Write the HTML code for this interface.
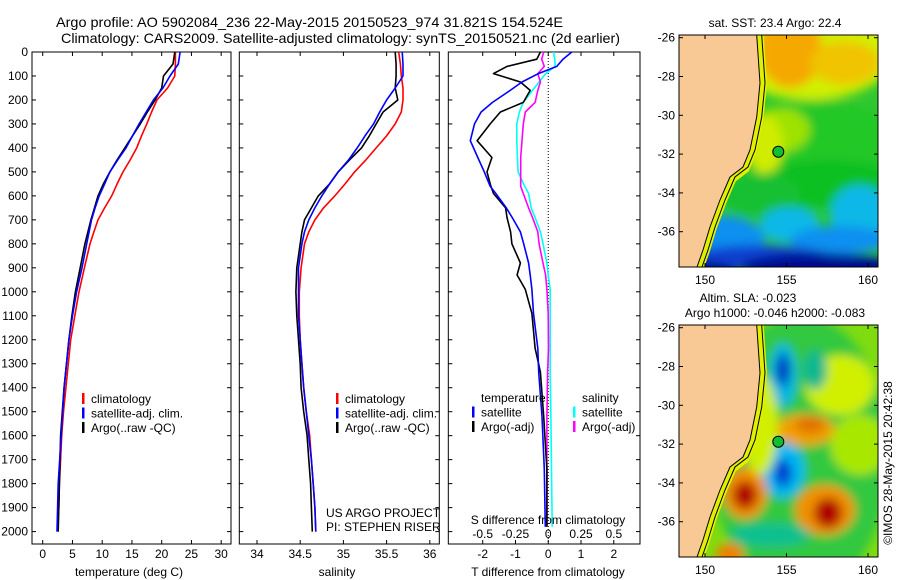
<!DOCTYPE html>
<html><head><meta charset="utf-8">
<style>
html,body{margin:0;padding:0;background:#fff;}
svg{display:block;font-family:"Liberation Sans",Arial,sans-serif;}
</style></head>
<body>
<svg id="fig" width="900" height="580" viewBox="0 0 900 580">
<defs>
  <filter id="blur1" x="-20%" y="-20%" width="140%" height="140%"><feGaussianBlur stdDeviation="5"/></filter>
  <clipPath id="clipMap1"><rect x="679" y="35" width="199" height="232"/></clipPath>
  <clipPath id="clipMap2"><rect x="679" y="325" width="199" height="232"/></clipPath>
</defs>
<text x="56" y="27" font-size="14" textLength="507" lengthAdjust="spacingAndGlyphs">Argo profile: AO 5902084_236 22-May-2015 20150523_974 31.821S 154.524E</text>
<text x="61" y="43" font-size="14" textLength="559" lengthAdjust="spacingAndGlyphs">Climatology: CARS2009. Satellite-adjusted climatology: synTS_20150521.nc (2d earlier)</text>
<g id="charts"></g>
<g id="maps"></g>
</svg>
<script>
// ---------- data ----------
const depths = [0,50,100,150,200,250,300,350,400,450,500,550,600,650,700,750,800,900,1000,1100,1200,1300,1400,1500,1600,1700,1800,1900,2000];
const tempClim = [22.3,22.3,22.2,21.0,19.2,18.3,17.5,16.6,15.8,14.7,13.5,12.5,11.6,10.4,9.3,8.6,7.95,7.0,6.1,5.4,4.7,4.3,3.9,3.5,3.2,3.0,2.8,2.7,2.5];
const tempSat  = [23.1,22.8,21.4,20.2,18.6,17.4,16.2,15.1,14.0,12.6,11.3,10.4,9.5,8.8,8.2,7.8,7.4,6.6,5.7,5.0,4.4,4.0,3.6,3.35,3.1,2.85,2.6,2.5,2.4];
const tempArgo = [22.2,21.9,20.3,20.0,18.9,17.6,16.4,15.1,13.8,12.5,11.3,10.2,9.3,8.7,8.1,7.6,7.1,6.3,5.5,4.9,4.4,4.0,3.6,3.3,3.0,2.9,2.8,2.7,2.6];
const salClim = [35.64,35.66,35.67,35.69,35.69,35.67,35.60,35.50,35.38,35.26,35.13,35.02,34.90,34.77,34.67,34.60,34.55,34.51,34.49,34.49,34.50,34.52,34.54,34.57,34.61,34.63,34.65,34.67,34.68];
const salSat  = [35.68,35.69,35.69,35.60,35.50,35.42,35.35,35.25,35.16,35.06,34.94,34.84,34.75,34.67,34.60,34.55,34.52,34.48,34.48,34.48,34.50,34.52,34.54,34.57,34.60,34.63,34.65,34.67,34.68];
const salArgo = [35.60,35.61,35.61,35.60,35.63,35.46,35.38,35.30,35.21,35.07,34.94,34.84,34.71,34.63,34.55,34.52,34.50,34.46,34.45,34.46,34.48,34.50,34.51,34.54,34.58,34.60,34.62,34.63,34.64];
const diffDepths = [0,30,60,90,125,160,210,250,300,370,440,500,560,590,650,690,750,800,880,930,990,1090,1235,1335,1520,1740,1980];
const dTSat  = [0.72,0.45,0.26,-0.30,-0.80,-1.16,-1.70,-2.05,-2.25,-2.38,-2.15,-1.95,-1.77,-1.60,-1.28,-1.10,-0.85,-0.75,-0.60,-0.55,-0.50,-0.45,-0.32,-0.29,-0.19,-0.12,-0.09];
const dTArgo = [-0.24,-0.35,-1.26,-1.67,-0.85,-0.55,-0.76,-1.46,-1.77,-2.17,-1.72,-1.87,-1.75,-1.67,-1.30,-1.26,-1.15,-1.11,-0.85,-0.95,-0.70,-0.50,-0.40,-0.24,-0.14,-0.04,-0.04];
const dSSat  = [0.04,0.05,0.053,-0.02,-0.07,-0.12,-0.19,-0.22,-0.24,-0.24,-0.235,-0.23,-0.18,-0.15,-0.13,-0.10,-0.06,-0.04,-0.01,0.0,0.015,0.015,0.015,0.015,0.02,0.025,0.03];
const dSArgo = [-0.035,-0.05,-0.03,-0.08,-0.06,-0.08,-0.10,-0.175,-0.19,-0.20,-0.21,-0.21,-0.21,-0.19,-0.15,-0.12,-0.08,-0.07,-0.04,-0.02,-0.01,0.0,0.002,-0.005,-0.01,-0.01,-0.01];
const yTicks = [0,100,200,300,400,500,600,700,800,900,1000,1100,1200,1300,1400,1500,1600,1700,1800,1900,2000];
const tTicks = [0,5,10,15,20,25,30];
const sTicks = [34,34.5,35,35.5,36];
const dTTicks = [-2,-1,0,1,2];
const dTTickLabels = ["-2","-1","0","1","2"];
const dSTicks = [-0.5,-0.25,0,0.25,0.5];
const dSTickLabels = ["-0.5","-0.25","0","0.25","0.5"];

const NS = "http://www.w3.org/2000/svg";
function mk(tag, attrs, parent, text){
  const e = document.createElementNS(NS, tag);
  for (const k in attrs) e.setAttribute(k, attrs[k]);
  if (text !== undefined) e.textContent = text;
  parent.appendChild(e);
  return e;
}
const charts = document.getElementById('charts');
const TOP = 52, BOT = 544;
const yScale = d => TOP + d * 0.2398;

function panel(name, x0, x1, xmin, xmax){
  const g = mk('g', {}, charts);
  
  
  const xs = v => x0 + (v - xmin) / (xmax - xmin) * (x1 - x0);
  const frame = mk('rect', {x:x0, y:TOP, width:x1-x0, height:BOT-TOP, fill:'none', stroke:'#000', 'stroke-width':1}, g);
  
  
  yTicks.forEach(d => {
    const y = yScale(d);
    mk('line', {x1:x0, x2:x0+4, y1:y, y2:y, stroke:'#000'}, g);
    mk('line', {x1:x1, x2:x1-4, y1:y, y2:y, stroke:'#000'}, g);
  });
  return {g, xs};
}
function yLabels(){
  const g = mk('g', {}, charts);
  
  
  yTicks.forEach(d => {
    const t = mk('text', {x:28, y:yScale(d)+4, 'font-size':12, 'text-anchor':'end'}, g, String(d));
    
    
  });
}
function xTicks(p, ticks, labels, yLab){
  ticks.forEach((v, i) => {
    const x = p.xs(v);
    mk('line', {x1:x, x2:x, y1:BOT, y2:BOT-4, stroke:'#000'}, p.g);
    mk('line', {x1:x, x2:x, y1:TOP, y2:TOP+4, stroke:'#000'}, p.g);
    const t = mk('text', {x:x, y:yLab, 'font-size':12, 'text-anchor':'middle'}, p.g, labels[i]);
    
    
  });
}
function series(p, vals, dep, color, name, w){
  const pts = vals.map((v, i) => p.xs(v).toFixed(1) + ',' + yScale(dep[i]).toFixed(1)).join(' ');
  const l = mk('polyline', {points:pts, fill:'none', stroke:color, 'stroke-width':w||1.6, 'stroke-linejoin':'round'}, p.g);
  
  
}
function legend(g, x, y, items){
  items.forEach((it, i) => {
    const yy = y + i * 14.5;
    if (it.c) mk('rect', {x:x, y:yy-10, width:2.5, height:11, fill:it.c}, g);
    const t = mk('text', {x:x+9, y:yy, 'font-size':12}, g, it.t);
    
    
  });
}
function label(g, x, y, s, name, anchor){
  const t = mk('text', {x:x, y:y, 'font-size':12, 'text-anchor':anchor||'middle'}, g, s);
  
  
}

yLabels();
const p1 = panel('temperature-panel', 32, 231, -1.8, 31.65);
xTicks(p1, tTicks, tTicks.map(String), 558);
series(p1, tempClim, depths, '#ff0000', 'temperature-climatology-line');
series(p1, tempArgo, depths, '#000000', 'temperature-argo-line');
series(p1, tempSat, depths, '#0000ff', 'temperature-satellite-line');
legend(p1.g, 82, 403, [{c:'#ff0000',t:'climatology'},{c:'#0000ff',t:'satellite-adj. clim.'},{c:'#000',t:'Argo(..raw -QC)'}]);
label(p1.g, 129, 576, 'temperature (deg C)', 'x-axis-title-temperature');

const p2 = panel('salinity-panel', 239.3, 439.3, 33.795, 36.11);
xTicks(p2, sTicks, sTicks.map(String), 558);
series(p2, salClim, depths, '#ff0000', 'salinity-climatology-line');
series(p2, salArgo, depths, '#000000', 'salinity-argo-line');
series(p2, salSat, depths, '#0000ff', 'salinity-satellite-line');
legend(p2.g, 336, 403, [{c:'#ff0000',t:'climatology'},{c:'#0000ff',t:'satellite-adj. clim.'},{c:'#000',t:'Argo(..raw -QC)'}]);
label(p2.g, 326, 517, 'US ARGO PROJECT', 'project-credit', 'start');
label(p2.g, 326, 531, 'PI: STEPHEN RISER', 'pi-credit', 'start');
label(p2.g, 337, 576, 'salinity', 'x-axis-title-salinity');

const p3 = panel('difference-panel', 448.3, 640, -3.05, 2.8);
xTicks(p3, dTTicks, dTTickLabels, 558);
const zx = p3.xs(0);
mk('line', {x1:zx, x2:zx, y1:TOP, y2:BOT, stroke:'#000', 'stroke-width':1, 'stroke-dasharray':'1,2'}, p3.g);
const sAsT = arr => arr.map(v => v * 4);
series(p3, sAsT(dSSat), diffDepths, '#00ffff', 'salinity-diff-satellite-line');
series(p3, sAsT(dSArgo), diffDepths, '#ff00ff', 'salinity-diff-argo-line');
series(p3, dTArgo, diffDepths, '#000000', 'temperature-diff-argo-line');
series(p3, dTSat, diffDepths, '#0000ff', 'temperature-diff-satellite-line');
legend(p3.g, 472, 402, [{t:''},{c:'#0000ff',t:'satellite'},{c:'#000',t:'Argo(-adj)'}]);
label(p3.g, 481, 402, 'temperature', 'legend-title-temperature', 'start');
legend(p3.g, 573, 402, [{t:''},{c:'#00ffff',t:'satellite'},{c:'#ff00ff',t:'Argo(-adj)'}]);
label(p3.g, 582, 402, 'salinity', 'legend-title-salinity', 'start');
label(p3.g, 548, 524, 'S difference from climatology', 'salinity-diff-axis-title');
dSTicks.forEach((v, i) => {
  label(p3.g, p3.xs(v * 4), 538, dSTickLabels[i], 'salinity-diff-tick-label');
});
label(p3.g, 548, 576, 'T difference from climatology', 'x-axis-title-difference');

// ---------- maps ----------
const maps = document.getElementById('maps');
const coast = [[756.7,0],[760,48],[756.7,82],[750,115],[743,132],[730,142],[720,165],[710,192],[703,215],[697,232]];
function coastPts(y0){ return coast.map(p => p[0] + ',' + (p[1] + y0)).join(' '); }
function mapBase(name, y0, clipId, blobs, base){
  const g = mk('g', {}, maps);
  
  
  const c = mk('g', {'clip-path':'url(#' + clipId + ')'}, g);
  mk('rect', {x:679, y:y0, width:199, height:232, fill:base}, c);
  const bg = mk('g', {filter:'url(#blur1)'}, c);
  blobs.forEach(b => mk('ellipse', {cx:b[0], cy:b[1]+y0, rx:b[2], ry:b[3], fill:b[4]}, bg));
  mk('polyline', {points:coastPts(y0), fill:'none', stroke:'#e0f000', 'stroke-width':14}, c);
  const land = mk('polygon', {points:'679,' + y0 + ' ' + coastPts(y0) + ' 679,' + (y0+232), fill:'#f9c995', stroke:'#000', 'stroke-width':1}, c);
  
  
  mk('polyline', {points:coast.map(p => (p[0]+5) + ',' + (p[1]+y0)).join(' '), fill:'none', stroke:'#000', 'stroke-width':1}, c);
  mk('rect', {x:679, y:y0, width:199, height:232, fill:'none', stroke:'#000'}, g);
  const mk2 = mk('circle', {cx:778.3, cy:y0+116.7, r:5.5, fill:'#10c030', stroke:'#000'}, g);
  
  
  const lats = [-26,-28,-30,-32,-34,-36];
  lats.forEach(l => {
    const y = y0 + 2.7 + (-26 - l) * 19.4;
    mk('line', {x1:679, x2:683, y1:y, y2:y, stroke:'#000'}, g);
    mk('line', {x1:878, x2:874, y1:y, y2:y, stroke:'#000'}, g);
    label(g, 675, y + 4, String(l), 'latitude-tick-label', 'end');
  });
  [150,155,160].forEach(lo => {
    const x = 705 + (lo - 150) * 16.3;
    mk('line', {x1:x, x2:x, y1:y0, y2:y0+4, stroke:'#000'}, g);
    mk('line', {x1:x, x2:x, y1:y0+232, y2:y0+228, stroke:'#000'}, g);
    label(g, x, y0 + 249, String(lo), 'longitude-tick-label');
  });
  return g;
}
const m1 = mapBase('sst-map', 35, 'clipMap1', [
  [810,10,90,55,'#d0f000'],[790,15,32,38,'#f5a800'],[845,28,35,22,'#f0c400'],
  [820,110,80,45,'#20c828'],[780,95,30,22,'#9ee200'],[765,110,18,30,'#d0ec00'],
  [830,150,70,25,'#10c020'],[760,160,40,22,'#18c030'],
  [720,205,45,25,'#1090f0'],[790,190,30,18,'#10b8e8'],[860,180,30,30,'#10b8e8'],
  [840,205,50,14,'#1090f0'],
  [760,222,70,12,'#1040d0'],[820,232,80,14,'#000f90'],[700,240,40,14,'#001090']
], '#30c830');
label(m1, 775, 27, 'sat. SST: 23.4 Argo: 22.4', 'sst-map-title');
const m2 = mapBase('sla-map', 325, 'clipMap2', [
  [800,130,90,140,'#30c840'],[840,60,35,30,'#d0f000'],[860,120,30,30,'#a8e800'],
  [783,50,14,32,'#00b8e0'],[783,45,7,16,'#0030c0'],[815,45,12,20,'#10b890'],
  [805,105,30,16,'#f0a000'],[810,100,15,8,'#e07000'],
  [783,145,22,28,'#00b8f0'],[783,148,9,14,'#0040d0'],
  [745,168,22,26,'#f09000'],[745,170,12,14,'#b00000'],
  [825,185,30,25,'#f09000'],[828,188,14,15,'#b00000'],
  [770,210,40,12,'#10c090'],[730,230,14,12,'#f08000'],[760,100,18,50,'#d0f000']
], '#80dc10');
label(m2, 748, 302, 'Altim. SLA: -0.023', 'sla-map-title');
label(m2, 775, 317, 'Argo h1000: -0.046 h2000: -0.083', 'sla-map-subtitle');
const cr = mk('text', {x:0, y:0, 'font-size':12, 'text-anchor':'middle', transform:'translate(892,463) rotate(-90)'}, maps, '©IMOS 28-May-2015 20:42:38');


</script>
</body></html>
